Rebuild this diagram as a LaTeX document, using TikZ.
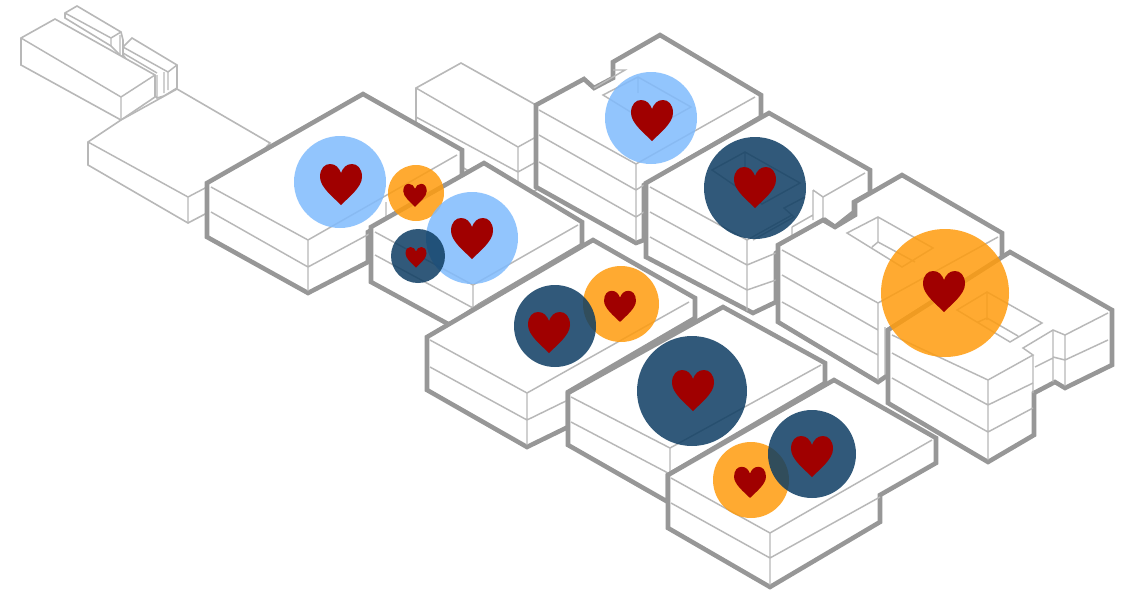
\documentclass[tikz,border=0pt]{standalone}
\usepackage{tikz}
\definecolor{wallgray}{HTML}{979797}
\definecolor{linegray}{HTML}{B8B8B8}
\definecolor{skyblue}{HTML}{80BBFD}
\definecolor{deepblue}{HTML}{0E3D63}
\definecolor{sunorange}{HTML}{FF9C0E}
\definecolor{heartred}{HTML}{A00000}
\tikzset{
  wall/.style={draw=wallgray,line width=3.4pt,fill=white},
  ln/.style={draw=linegray,line width=1.1pt},
  faint/.style={draw=linegray,line width=1.2pt,fill=white},
  spot/.style={opacity=.85},
  heart/.pic={\fill[heartred] (0,21) .. controls (-8,13) and (-21,3) .. (-21,-7)
    .. controls (-21,-16) and (-16,-20) .. (-11,-20)
    .. controls (-5,-20) and (-2,-16) .. (0,-11)
    .. controls (2,-16) and (5,-20) .. (11,-20)
    .. controls (16,-20) and (21,-16) .. (21,-7)
    .. controls (21,3) and (8,13) .. (0,21) -- cycle;}}
\begin{document}
\begin{tikzpicture}[x=.75pt,y=-.75pt]
\useasboundingbox (0,0) rectangle (1129,590);
% faint blocks, top left
\draw[faint] (65,18)--(65,13)--(77,6)--(121,32)--(123,40)--(123,58)--(111,46)--cycle;
\draw[ln] (65,13)--(111,38)--(121,32) (111,38)--(111,46) (120,35)--(120,54);
\draw[faint] (123,47)--(132,38)--(177,65)--(177,88)--(164,96)--(157,98)--(123,55)--cycle;
\draw[ln] (123,47)--(168,72)--(177,65) (168,72)--(168,90) (123,53)--(157,73) (164,72)--(164,93) (157,75)--(157,98);
\draw[faint] (21,38)--(55,19)--(155,75)--(155,97)--(121,120)--(21,65)--cycle;
\draw[ln] (21,38)--(121,97)--(155,75) (121,97)--(121,120);
\draw[faint] (88,142)--(121,120)--(177,89)--(270,143)--(207,213)--(188,223)--(88,165)--cycle;
\draw[ln] (88,142)--(188,197)--(207,187) (188,197)--(188,223);
\draw[faint] (416,88)--(461,63)--(536,105)--(536,190)--(518,200)--(416,140)--cycle;
\draw[ln] (416,88)--(518,147)--(536,137) (518,147)--(518,200) (416,117)--(518,172)--(536,162);
% back row
\draw[wall] (207,183)--(363,94)--(462,150)--(462,177)--(368,232)--(368,262)--(308,293)--(207,237)--cycle;
\draw[ln] (211,187)--(308,240)--(457,155) (211,212)--(308,267)--(371,233) (308,240)--(308,291) (386,202)--(386,217);
\draw[wall] (536,105)--(584,79)--(594,88)--(613,78)--(613,62)--(660,35)--(761,95)--(761,117)--(644,185)--(644,240)--(636,243)--(536,187)--cycle;
\draw[ln] (539,110)--(636,164)--(755,97) (539,135)--(636,190)--(644,185) (539,162)--(636,217)--(644,212) (636,164)--(636,241);
\draw[ln] (613,70)--(625,70)--(594,88);
\draw[ln] (603,95)--(638,77)--(691,107)--(655,127)--cycle (638,77)--(638,93);
\draw[wall] (371,227)--(484,163)--(582,222)--(582,245)--(480,305)--(450,325)--(371,282)--cycle;
\draw[ln] (375,232)--(473,285)--(578,225) (375,255)--(473,308)--(505,290) (473,285)--(473,310);
\draw[wall] (646,183)--(769,113)--(870,170)--(870,193)--(854,202)--(854,212)--(835,227)--(825,220)--(776,253)--(776,302)--(753,313)--(646,257)--cycle;
\draw[ln] (650,187)--(747,240)--(792,215) (650,212)--(747,265)--(776,253) (650,237)--(747,290)--(776,280) (747,240)--(747,311);
\draw[ln] (813,190)--(823,197)--(865,173) (813,190)--(813,220) (823,197)--(823,220) (792,227)--(813,215) (792,227)--(792,236);
\draw[ln] (712,170)--(745,152)--(800,183)--(762,204)--cycle (745,152)--(745,167) (805,197)--(784,208)--(794,217)--(753,240);
\draw[wall] (427,337)--(593,240)--(695,298)--(695,318)--(568,392)--(568,427)--(527,447)--(427,390)--cycle;
\draw[ln] (430,340)--(527,393)--(689,302) (430,367)--(527,420)--(568,400) (527,393)--(527,445);
\draw[wall] (778,245)--(823,220)--(835,227)--(855,215)--(855,202)--(902,175)--(1002,233)--(1002,258)--(888,330)--(888,375)--(878,382)--(778,322)--cycle;
\draw[ln] (782,250)--(878,303)--(998,237) (782,275)--(878,330) (782,302)--(878,355) (878,303)--(878,380) (885,327)--(885,375);
\draw[ln] (847,233)--(878,217)--(933,248)--(902,267)--cycle (878,217)--(878,242) (872,247)--(878,242)--(915,262);
\draw[wall] (568,393)--(723,307)--(825,363)--(825,383)--(668,475)--(668,502)--(568,445)--cycle;
\draw[ln] (571,397)--(670,448)--(821,365) (571,422)--(668,473) (670,448)--(670,472);
% front row
\draw[wall] (888,330)--(1010,252)--(1112,310)--(1112,365)--(1065,388)--(1055,382)--(1034,393)--(1034,435)--(988,462)--(888,403)--cycle;
\draw[ln] (892,335)--(988,380)--(1033,355)--(1023,348)--(1053,330)--(1065,335)--(1108,313) (892,353)--(988,405)--(1033,383) (892,378)--(988,432)--(1033,408) (988,380)--(988,460);
\draw[ln] (1033,355)--(1033,393) (1053,330)--(1053,382) (1065,335)--(1065,386) (1035,367)--(1053,358) (1053,357)--(1065,360)--(1108,340);
\draw[ln] (957,310)--(987,292)--(1042,323)--(1010,342)--cycle (987,292)--(987,320) (978,322)--(987,318)--(1018,336);
\draw[wall] (668,475)--(834,380)--(936,438)--(936,463)--(880,495)--(880,522)--(770,587)--(668,528)--cycle;
\draw[ln] (671,478)--(770,533)--(932,440) (671,503)--(770,558)--(880,497) (770,533)--(770,585);
% circles
\fill[skyblue,spot] (340,182) circle (46);
\fill[sunorange,spot] (416,193) circle (28);
\fill[skyblue,spot] (472,238) circle (46);
\fill[deepblue,spot] (418,256) circle (27);
\fill[skyblue,spot] (651,118) circle (46);
\fill[deepblue,spot] (755,188) circle (51);
\fill[sunorange,spot] (945,293) circle (64);
\fill[sunorange,spot] (621,304) circle (38);
\fill[deepblue,spot] (555,326) circle (41);
\fill[deepblue,spot] (692,391) circle (55);
\fill[sunorange,spot] (751,480) circle (38);
\fill[deepblue,spot] (812,454) circle (44);
% hearts
\foreach \hx/\hy/\hs in {341/184/1,415/195/.56,472/238/1,416/257/.5,652/120/1,755/187/1,
  944/291/1,549/332/1,620/306/.76,693/390/1,812/456/1,750/482/.76}
  \pic[scale=\hs] at (\hx,\hy) {heart};
\end{tikzpicture}
\end{document}
